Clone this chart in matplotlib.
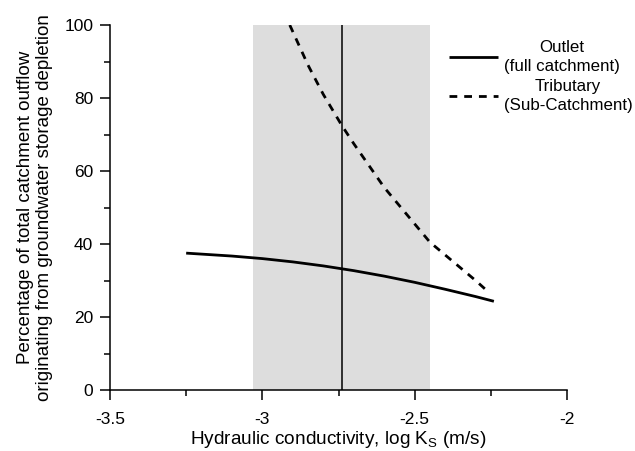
import matplotlib
matplotlib.use('Agg')
import matplotlib.pyplot as plt
from matplotlib.ticker import MultipleLocator

plt.rcParams['font.family'] = ['Liberation Sans', 'DejaVu Sans']
plt.rcParams['axes.unicode_minus'] = False

# Data
outlet_x = [-3.25, -3.1, -3.0, -2.9, -2.8, -2.7, -2.6, -2.5, -2.4, -2.3, -2.24]
outlet_y = [37.5, 36.7, 36.0, 35.1, 34.0, 32.7, 31.2, 29.5, 27.6, 25.6, 24.3]

trib_x = [-2.91, -2.85, -2.8, -2.74, -2.7, -2.6, -2.5, -2.45, -2.4, -2.3, -2.26]
trib_y = [100.0, 89.0, 81.0, 72.6, 67.5, 55.5, 45.5, 40.5, 37.0, 30.0, 27.0]

shade_range = (-3.03, -2.45)
best_ks = -2.74

fig = plt.figure(figsize=(6.35, 4.51), dpi=100)
ax = fig.add_axes([110/635, 1 - 390/451, 457/635, 365/451])

ax.axvspan(shade_range[0], shade_range[1], color='#dddddd', lw=0, zorder=0)
ax.axvline(best_ks, color='black', lw=1.1, zorder=1)

ax.plot(outlet_x, outlet_y, color='black', lw=2.0, solid_capstyle='butt',
        label='Outlet\n(full catchment)', zorder=3)
ax.plot(trib_x, trib_y, color='black', lw=2.0, ls=(0, (2.8, 2.5)),
        label='Tributary\n(Sub-Catchment)', zorder=3)

ax.set_xlim(-3.5, -2)
ax.set_ylim(0, 100)
ax.xaxis.set_major_locator(MultipleLocator(0.5))
ax.xaxis.set_minor_locator(MultipleLocator(0.25))
ax.yaxis.set_major_locator(MultipleLocator(20))
ax.yaxis.set_minor_locator(MultipleLocator(10))
ax.xaxis.set_major_formatter(plt.FuncFormatter(lambda v, p: '%g' % v))

for s in ['top', 'right']:
    ax.spines[s].set_visible(False)
for s in ['left', 'bottom']:
    ax.spines[s].set_linewidth(1.1)

ax.tick_params(which='major', direction='out', length=7, width=1.1, labelsize=12.5)
ax.tick_params(which='minor', direction='out', length=4.5, width=1.1)
ax.tick_params(axis='x', pad=9)
ax.tick_params(axis='y', pad=5)

ax.set_xlabel(r'Hydraulic conductivity, log K$_\mathregular{S}$ (m/s)', fontsize=13.7, labelpad=1)
ax.set_ylabel('Percentage of total catchment outflow\noriginating from groundwater storage depletion',
              fontsize=13.5, labelpad=8)

leg = fig.legend(loc='upper left', bbox_to_anchor=(442/635, 1 - 33/451), frameon=False,
                 borderaxespad=0, fontsize=12.2, handlelength=2.9, handletextpad=0.35,
                 labelspacing=0.3)
for t in leg.get_texts():
    t.set_multialignment('center')
    t.set_linespacing(1.35)

fig.savefig('out.png', dpi=100)
